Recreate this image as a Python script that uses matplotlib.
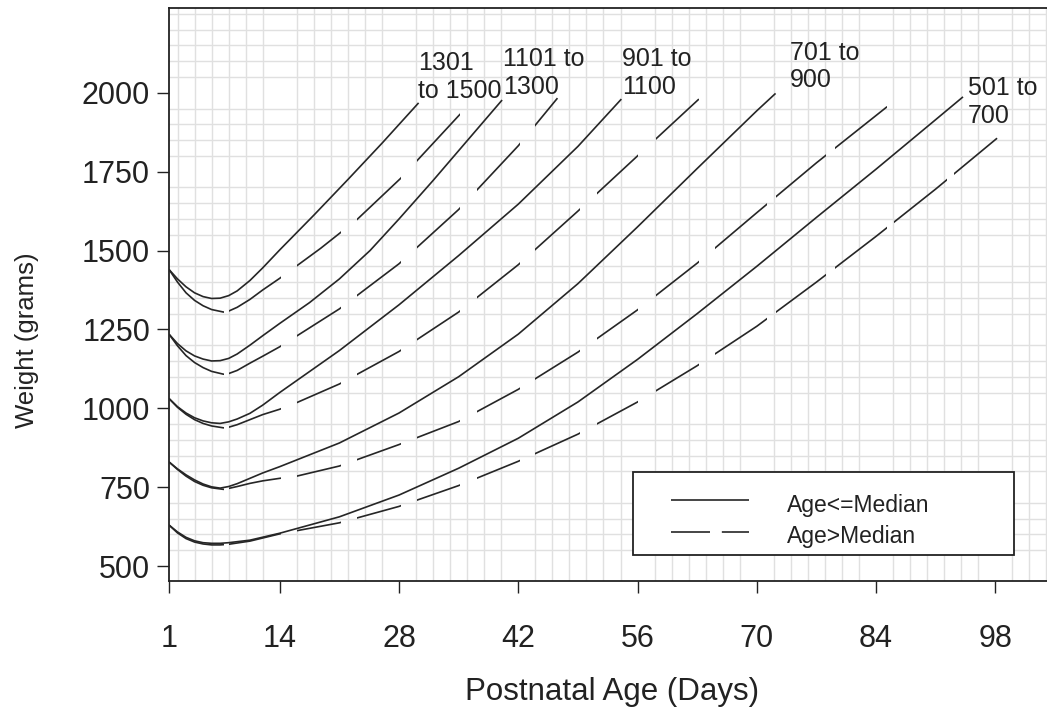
import numpy as np
import matplotlib
matplotlib.use('Agg')
import matplotlib.pyplot as plt
from matplotlib.path import Path
from matplotlib.patches import Rectangle

plt.rcParams['font.family'] = ['Liberation Sans', 'DejaVu Sans']

## DATOS ##
# 501 to 700
d_s1 = [1, 2, 3, 4, 5, 6, 7, 8, 10.5, 14, 21, 28, 35, 42, 49, 56, 63, 70, 77, 84, 91, 94.2]
w_s1 = [630, 608, 591, 580, 574, 572, 572, 574, 582, 604, 656, 725, 810, 905, 1020, 1155, 1300,
        1450, 1605, 1758, 1915, 1987]
d_d1 = [1, 2, 3, 4, 5, 6, 7, 8, 10.5, 14, 21, 28, 35, 42, 49, 56, 63, 70, 77, 84, 91, 98.2]
w_d1 = [630, 605, 587, 576, 570, 567, 567, 569, 579, 602, 637, 689, 755, 832, 918, 1020, 1135,
        1260, 1400, 1545, 1695, 1856]
# 701 to 900
d_s2 = [1, 2, 3, 4, 5, 6, 7, 8, 9, 10.5, 12, 14, 21, 28, 35, 42, 49, 56, 63, 70, 72.2]
w_s2 = [830, 808, 789, 773, 760, 751, 747, 752, 761, 778, 795, 815, 890, 985, 1100, 1235, 1395,
        1575, 1760, 1943, 1998]
d_d2 = [1, 2, 3, 4, 5, 6, 7.4, 8, 9, 10.5, 12, 14, 16, 21, 28, 35, 42, 49, 56, 63, 70, 77, 85.3]
w_d2 = [830, 806, 785, 768, 756, 748, 743, 746, 752, 762, 770, 778, 785, 817, 885, 958, 1060,
        1178, 1312, 1460, 1620, 1778, 1956]
# 901 to 1100
d_s3 = [1, 2, 3, 4, 5, 6, 7, 8, 9, 10.5, 12, 14, 21, 28, 35, 42, 49, 54.1]
w_s3 = [1031, 1005, 985, 970, 960, 954, 952, 957, 966, 984, 1010, 1050, 1183, 1328, 1484, 1647,
        1830, 1980]
d_d3 = [1, 2, 3, 4, 5, 6, 7.4, 8, 9, 10.5, 12, 14, 16, 21, 28, 35, 42, 49, 56, 63.2]
w_d3 = [1031, 1003, 981, 964, 952, 944, 938, 940, 948, 964, 980, 997, 1018, 1077, 1180, 1305,
        1455, 1625, 1800, 1980]
# 1101 to 1300
d_s4 = [1, 2, 3, 4, 5, 6, 7, 8, 9, 10.5, 12, 14, 17.5, 21, 24.6, 28, 32, 36, 40.1]
w_s4 = [1235, 1205, 1182, 1166, 1156, 1150, 1151, 1158, 1172, 1200, 1230, 1269, 1335, 1410,
        1500, 1600, 1722, 1848, 1977]
d_d4 = [1, 2, 3, 4, 5, 6, 7.4, 8, 9, 10.5, 12, 14, 21, 28, 35, 42, 46.6]
w_d4 = [1235, 1198, 1167, 1145, 1129, 1117, 1108, 1110, 1120, 1143, 1165, 1195, 1315, 1458,
        1630, 1832, 1983]
# 1301 to 1500
d_s5 = [1, 2, 3, 4, 5, 6, 7, 8, 9, 10.5, 12, 14, 18, 22, 26, 30.3]
w_s5 = [1440, 1410, 1385, 1366, 1354, 1348, 1349, 1357, 1372, 1405, 1445, 1502, 1612, 1725,
        1840, 1968]
d_d5 = [1, 2, 3, 4, 5, 6, 7.4, 8, 9, 10.5, 12, 14, 18.8, 23.1, 28.2, 35.2]
w_d5 = [1440, 1400, 1366, 1342, 1325, 1313, 1305, 1308, 1320, 1345, 1375, 1412, 1507, 1599,
        1729, 1933]

etiquetas = ['501 to\n700', '701 to\n900', '901 to\n1100', '1101 to\n1300', '1301\nto 1500']
x_ticks = [1, 14, 28, 42, 56, 70, 84, 98]
y_ticks = [500, 750, 1000, 1250, 1500, 1750, 2000]

solidos = [(d_s1, w_s1), (d_s2, w_s2), (d_s3, w_s3), (d_s4, w_s4), (d_s5, w_s5)]
discontinuos = [(d_d1, w_d1), (d_d2, w_d2), (d_d3, w_d3), (d_d4, w_d4), (d_d5, w_d5)]

# posiciones de las etiquetas (dias, gramos)
etiq_x = [94.8, 73.9, 54.2, 40.2, 30.2]
etiq_y = [1972, 2083, 2062, 2063, 2051]

# tramos visibles de las lineas discontinuas (en dias)
tramos = [(1, 7.4), (8.0, 14.1), (16.0, 21.2), (23.1, 28.2), (30.1, 35.2), (37.1, 42.2),
          (44.0, 49.3), (51.2, 56.1), (58.2, 63.2), (65.1, 71.2), (72.2, 78.1),
          (79.2, 85.3), (86.1, 92.3), (93.1, 106)]

color_linea = '#262626'

fig = plt.figure(figsize=(10.47, 7.11), dpi=100)
ax = fig.add_axes([0.1614, 0.1828, 0.8386, 0.8059])

ax.set_xlim(1, 104.06)
ax.set_ylim(452.5, 2268.6)

# rejilla
ax.set_xticks(np.arange(2, 105, 2), minor=True)
ax.set_yticks(np.arange(500, 2260, 50), minor=True)
ax.grid(which='minor', color='#e0e0e0', linewidth=1.0)
ax.grid(which='major', visible=False)
ax.set_axisbelow(True)

# camino de recorte para las discontinuas
verts = []
codes = []
for a, b in tramos:
    verts += [(a, 0), (b, 0), (b, 5000), (a, 5000), (a, 0)]
    codes += [Path.MOVETO, Path.LINETO, Path.LINETO, Path.LINETO, Path.CLOSEPOLY]
recorte = Path(verts, codes)

for d, w in solidos:
    ax.plot(d, w, color=color_linea, linewidth=1.2, solid_capstyle='butt', zorder=3)
for d, w in discontinuos:
    ln, = ax.plot(d, w, color=color_linea, linewidth=1.2, solid_capstyle='butt', zorder=3)
    ln.set_clip_path(recorte, ax.transData)

for txt, x, y in zip(etiquetas, etiq_x, etiq_y):
    ax.text(x, y, txt, fontsize=18, ha='left', va='center', color='#222222', zorder=4)

ax.set_xticks(x_ticks)
ax.set_yticks(y_ticks)
ax.tick_params(which='major', direction='out', length=8.6, width=1.0, colors='#222222',
               labelsize=22)
ax.tick_params(axis='x', which='major', pad=22)
ax.tick_params(axis='y', which='major', pad=5)
ax.tick_params(which='minor', length=0)

for s in ['left', 'bottom', 'top']:
    ax.spines[s].set_linewidth(1.3)
    ax.spines[s].set_color('#222222')
ax.spines['right'].set_visible(False)

ax.set_xlabel('Postnatal Age (Days)', fontsize=22.5, color='#222222', va='center')
ax.xaxis.set_label_coords(0.5046, -0.1937)
ax.set_ylabel('Weight (grams)', fontsize=18.5, color='#222222', va='center')
ax.yaxis.set_label_coords(-0.162, 0.42)

# leyenda dibujada a mano
ax.add_patch(Rectangle((0.5288, 0.0454), 0.434, 0.1454, transform=ax.transAxes,
                       facecolor='white', edgecolor='#222222', linewidth=1.3, zorder=5))
ax.plot([0.5714, 0.6609], [0.1414, 0.1414], transform=ax.transAxes, color=color_linea,
        linewidth=1.2, solid_capstyle='butt', zorder=6)
ax.plot([0.5714, 0.6609], [0.0850, 0.0850], transform=ax.transAxes, color=color_linea,
        linewidth=1.2, dashes=(23.4, 7.1), dash_capstyle='butt', zorder=6)
ax.text(0.7042, 0.1326, 'Age<=Median', transform=ax.transAxes, fontsize=16.5,
        ha='left', va='center', color='#222222', zorder=6)
ax.text(0.7042, 0.0773, 'Age>Median', transform=ax.transAxes, fontsize=16.5,
        ha='left', va='center', color='#222222', zorder=6)

fig.savefig('out.png', dpi=100)
